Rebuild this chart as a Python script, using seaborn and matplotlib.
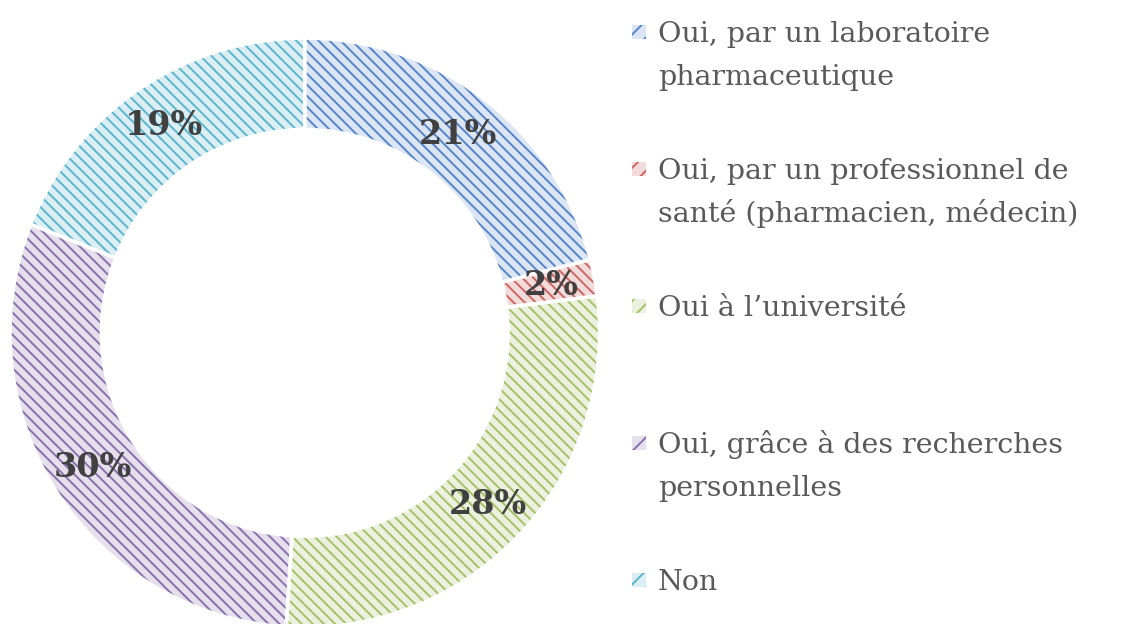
import matplotlib
matplotlib.use("Agg")
import matplotlib.pyplot as plt
from matplotlib.patches import Rectangle
import seaborn as sns

# data
labels = [
    "Oui, par un laboratoire\npharmaceutique",
    "Oui, par un professionnel de\nsanté (pharmacien, médecin)",
    "Oui à l’université",
    "Oui, grâce à des recherches\npersonnelles",
    "Non",
]
values = [21, 2, 28, 30, 19]
line_colors = ["#5585C8", "#CC6663", "#A3C166", "#8A6FAD", "#5BB5CD"]
fill_colors = ["#DCE5F3", "#F2DCDB", "#EBF1DE", "#E5E0EC", "#DBEEF4"]

sns.set_theme(style="white")
plt.rcParams["font.family"] = ["DejaVu Serif"]
plt.rcParams["hatch.linewidth"] = 1.4

fig = plt.figure(figsize=(11.25, 6.24), dpi=100)
ax = fig.add_axes([0.0089, -0.0064, 0.524, 0.946])

ring = 0.31
wedges, _, autotexts = ax.pie(
    values, startangle=90, counterclock=False, radius=1,
    colors=fill_colors, autopct="%1.0f%%", pctdistance=0.85,
    wedgeprops=dict(width=ring, linewidth=0),
    textprops=dict(fontsize=24, fontweight="bold", color="#404040"),
)
for w, c in zip(wedges, line_colors):
    w.set_hatch("\\\\\\")
    w.set_edgecolor(c)
    w.set_zorder(1)
# white separators on top
ax.pie(values, startangle=90, counterclock=False, radius=1,
       colors=["none"] * len(values),
       wedgeprops=dict(width=ring, linewidth=2.5, edgecolor="white", zorder=2))
for t in autotexts:
    t.set_zorder(3)
ax.set_xlim(-1, 1)
ax.set_ylim(-1, 1)
ax.set_aspect("equal")

# legend, drawn line by line
for i, (lab, lc, fc) in enumerate(zip(labels, line_colors, fill_colors)):
    y_mid = 624 - (32 + 137 * i)
    sq = Rectangle((632 / 1125, (y_mid - 7) / 624), 14 / 1125, 14 / 624,
                   transform=fig.transFigure, facecolor=fc, edgecolor=lc,
                   hatch="//", linewidth=0)
    fig.add_artist(sq)
    for j, line in enumerate(lab.split("\n")):
        y_base = 624 - (42 + 137 * i + 43 * j)
        fig.text(658 / 1125, y_base / 624, line, fontsize=20.5,
                 color="#595959", va="baseline", ha="left")

fig.savefig("out.png", dpi=100)
